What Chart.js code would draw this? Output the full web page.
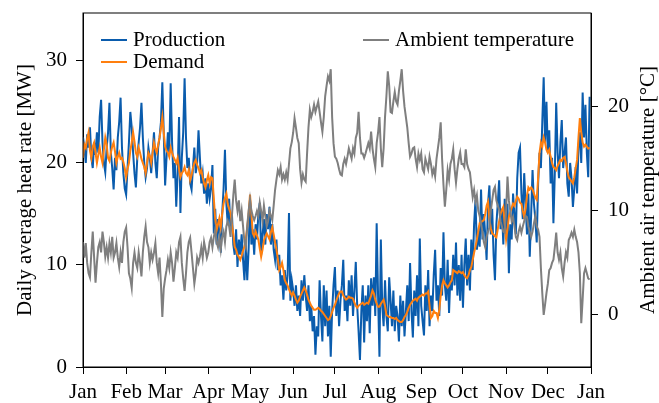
<!DOCTYPE html>
<html>
<head>
<meta charset="utf-8">
<script src="https://cdn.jsdelivr.net/npm/chart.js@4.4.1/dist/chart.umd.min.js"></script>
<style>
  body { margin: 0; background: #fff; }
  #wrap { width: 659px; height: 403px; }
</style>
</head>
<body>
<div id="wrap"><canvas id="c" width="659" height="403"></canvas></div>
<script>
// month ticks (day of year) and labels
const monthDays = [0, 31, 59, 90, 120, 151, 181, 212, 243, 273, 304, 334, 365];
const monthLabels = ['Jan', 'Feb', 'Mar', 'Apr', 'May', 'Jun', 'Jul', 'Aug', 'Sep', 'Oct', 'Nov', 'Dec', 'Jan'];
const heatTicks = [0, 10, 20, 30];
const tempTicks = [0, 10, 20];

// daily average heat production [MW]
const production = [
  22.5,21.5,20.0,22.8,21.5,23.5,20.5,19.5,22.0,20.8,23.0,21.0,24.5,26.2,22.0,20.0,19.1,21.5,23.0,25.9,21.0,19.5,17.4,20.5,19.3,22.5,24.0,26.4,21.5,19.0,17.5,
  16.9,19.5,22.0,25.0,23.5,21.0,19.0,17.6,20.5,22.0,23.5,25.9,22.5,20.0,18.6,19.5,21.5,20.5,19.0,21.0,23.0,20.0,18.5,21.5,22.5,24.0,27.9,23.0,
  17.8,20.5,23.0,21.0,27.8,22.0,18.5,20.0,15.7,19.0,24.5,15.1,20.5,23.0,28.3,22.5,19.5,20.5,18.0,17.4,19.5,21.5,19.0,20.0,23.2,20.5,18.0,19.0,17.0,18.5,16.0,
  18.0,16.5,17.5,19.8,13.1,15.5,12.0,14.5,13.0,11.2,15.0,17.5,21.3,16.0,14.0,16.5,13.5,15.0,12.0,11.0,13.5,9.8,12.5,11.0,13.0,10.5,8.5,12.0,8.5,11.5,
  16.4,12.0,13.5,11.0,14.0,12.5,15.0,16.1,11.0,13.0,14.5,12.0,15.0,13.5,15.7,12.0,14.0,11.5,10.5,12.5,9.5,11.0,8.0,9.0,6.6,9.5,7.5,9.0,15.1,6.5,8.5,
  7.5,6.0,8.0,5.5,7.0,5.0,8.5,6.5,9.0,7.0,5.5,8.0,4.5,6.0,3.5,5.0,1.2,4.0,3.0,8.5,5.0,2.5,8.0,4.0,7.5,3.0,6.0,1.0,5.5,8.0,
  9.8,5.0,7.5,4.0,6.5,8.0,10.5,5.5,7.0,4.5,8.5,6.0,9.0,5.0,7.5,10.3,6.0,3.5,0.7,5.5,8.0,2.4,7.0,4.5,8.0,3.3,8.7,6.0,8.8,5.0,14.1,
  7.0,1.0,12.5,6.0,4.0,8.5,5.0,3.5,8.8,6.5,4.0,7.5,3.5,6.0,5.0,2.5,7.0,4.0,6.5,3.0,5.5,8.0,4.5,10.2,5.5,2.9,7.5,5.0,9.0,4.0,12.6,
  6.0,4.5,3.1,8.0,5.5,9.5,4.0,7.0,5.5,9.0,11.5,6.5,8.0,5.0,9.7,7.0,13.2,8.0,6.5,10.5,5.3,9.0,7.5,11.0,8.0,12.2,7.0,10.0,6.5,11.0,
  5.8,10.0,12.6,8.0,11.0,7.5,12.5,9.5,14.0,16.4,11.5,13.0,11.8,17.4,12.5,15.0,13.0,10.5,16.0,17.8,13.0,15.5,11.0,8.5,14.0,16.0,18.3,13.5,15.5,12.0,16.5,
  13.0,16.0,9.2,14.0,12.5,17.0,15.0,13.0,18.5,21.0,21.5,17.0,14.5,19.0,16.0,13.0,17.0,10.8,15.0,19.3,16.0,14.5,12.2,18.0,21.0,19.5,24.0,28.4,22.0,26.0,
  21.0,23.2,18.0,20.5,14.1,19.0,25.9,21.0,18.5,22.0,24.2,19.5,21.0,22.5,18.0,16.7,20.0,18.5,15.7,17.5,19.6,17.0,21.5,23.0,20.0,26.9,22.5,25.7,21.0,18.6,26.5
];

// daily average heat demand [MW]
const demand = [
  20.5,21.8,21.5,22.4,23.0,21.2,20.5,21.6,22.0,21.0,20.0,20.8,21.5,20.6,20.0,21.3,22.5,21.8,20.5,20.2,21.0,21.6,22.0,21.1,20.0,20.6,21.0,20.4,20.5,20.1,19.5,
  18.6,19.4,20.0,21.2,22.0,23.0,22.1,21.0,20.6,21.5,21.0,20.4,20.0,19.6,19.0,20.0,21.0,20.7,20.0,21.0,22.0,21.4,21.0,21.8,22.5,23.4,24.5,23.0,
  21.6,21.2,21.0,20.6,21.5,21.0,20.6,20.3,20.0,20.5,19.4,18.6,19.0,19.2,19.6,19.0,18.8,19.3,18.3,18.8,19.5,20.0,20.3,19.8,19.5,19.0,19.3,18.6,18.0,17.6,18.3,
  18.8,18.0,18.6,18.5,16.5,14.5,13.4,14.0,14.6,13.7,15.0,16.0,16.6,17.0,16.0,15.5,15.1,14.0,13.0,11.8,11.5,11.0,10.8,10.5,10.9,11.4,11.8,12.6,13.7,15.0,
  16.9,15.0,13.1,12.8,13.3,12.9,12.5,11.6,10.8,11.5,12.4,12.8,13.1,12.8,12.5,13.2,13.7,13.0,12.2,11.5,10.6,9.5,9.8,10.2,9.5,8.5,8.2,8.0,7.6,7.3,7.0,
  7.3,7.0,6.6,6.3,6.5,6.9,7.2,7.5,7.8,7.5,7.1,6.6,6.3,6.0,5.8,5.6,5.6,5.7,5.8,5.7,5.5,5.4,5.2,5.0,4.8,4.6,4.7,5.0,5.4,5.8,
  6.1,6.5,6.9,7.2,7.4,7.4,7.0,6.8,6.6,6.7,6.9,6.8,6.8,6.7,6.3,6.0,5.8,6.0,6.1,6.2,6.3,6.1,6.2,6.3,6.2,6.6,7.0,7.5,7.2,6.6,6.2,
  5.9,5.9,6.2,6.4,6.6,6.0,5.1,5.0,4.9,4.9,4.8,4.8,4.7,4.8,4.6,4.5,4.4,4.4,4.6,4.9,5.1,5.4,5.8,6.1,6.3,6.5,6.6,6.7,6.5,6.8,6.9,
  7.0,7.1,7.0,7.2,7.2,7.4,6.0,4.8,5.0,5.5,5.3,5.3,4.8,5.6,7.0,8.0,8.5,8.2,8.0,7.8,8.0,8.3,8.5,9.5,9.4,9.3,9.2,9.4,9.3,9.2,
  9.3,9.0,8.8,8.7,9.0,9.5,9.8,10.5,11.2,11.8,12.5,13.3,14.1,14.2,14.3,14.4,15.0,15.8,16.2,14.5,13.6,13.1,13.0,12.8,12.7,13.5,14.3,15.0,15.4,15.7,14.0,
  12.5,13.5,14.7,15.2,15.6,16.0,15.8,16.3,16.7,16.5,16.1,16.0,15.3,14.7,15.5,16.8,17.6,17.4,17.6,17.4,17.0,16.6,16.4,18.5,21.0,22.0,21.6,22.5,22.0,21.3,
  21.0,21.3,20.6,20.0,19.6,19.5,19.3,19.7,20.0,20.3,20.2,20.5,20.6,20.0,19.2,18.6,18.4,18.2,18.0,18.6,19.5,20.3,22.5,24.4,23.0,22.0,21.6,21.8,21.6,21.4,21.5
];

// ambient air temperature [°C]
const temperature = [
  7.0,5.5,6.9,5.0,4.0,3.6,6.0,8.0,5.5,3.1,5.0,6.5,7.0,6.0,8.0,7.0,5.6,6.5,5.5,6.9,6.0,7.5,5.5,6.0,6.9,5.5,4.6,6.0,5.0,7.0,8.0,
  8.4,6.5,4.0,3.5,2.6,5.0,6.0,5.0,4.5,6.0,5.0,3.7,6.0,7.5,8.5,7.0,6.5,5.0,6.0,5.3,6.0,6.9,5.0,4.0,5.5,3.0,-0.2,2.5,
  3.5,4.3,5.3,4.5,6.0,5.0,3.2,4.5,6.0,5.5,7.0,7.5,5.0,3.5,2.3,4.0,6.0,7.0,7.4,6.0,4.5,3.0,4.0,5.5,5.0,5.6,6.5,5.5,7.0,6.3,5.5,
  6.0,7.0,7.4,6.5,7.5,8.2,7.0,6.5,7.5,6.3,7.5,8.0,7.0,8.5,9.0,8.5,7.5,9.5,11.5,13.0,11.0,10.0,11.0,9.0,10.0,8.5,7.0,6.5,8.5,10.0,
  11.1,10.0,9.5,9.1,9.5,10.0,9.5,10.8,10.0,9.0,10.5,9.5,8.5,9.0,10.0,9.5,9.1,10.5,12.0,13.0,13.9,13.5,14.2,13.0,13.5,13.0,13.7,13.0,14.5,16.0,16.6,
  17.5,18.9,18.0,17.0,16.5,14.0,12.7,13.5,13.0,12.8,15.5,18.0,19.7,19.0,19.5,20.2,19.5,20.0,20.5,19.5,18.5,17.6,19.0,21.0,22.0,22.9,22.5,23.6,19.0,16.5,
  15.2,15.0,14.6,14.0,13.5,13.4,14.5,15.0,14.5,15.2,16.0,15.5,15.0,16.0,15.5,17.0,17.5,19.5,17.0,15.5,15.5,15.1,15.5,16.0,16.5,16.0,17.6,16.0,15.0,14.2,16.5,
  17.5,19.0,16.0,14.2,16.0,19.0,21.0,23.4,22.0,19.5,19.4,20.5,21.4,20.5,20.2,21.5,22.5,23.6,21.5,20.0,19.0,18.0,16.5,15.2,15.5,16.0,16.1,15.0,14.2,15.5,14.9,
  15.5,14.0,13.7,15.0,14.5,14.0,15.2,14.5,13.5,14.0,13.3,15.0,16.0,17.0,18.5,15.0,12.5,10.4,12.0,13.9,13.0,14.5,15.0,15.9,14.0,12.7,14.0,15.0,15.6,14.5,
  14.5,14.2,15.9,14.5,14.0,13.7,12.5,11.3,12.0,10.9,11.5,10.0,9.5,8.8,8.0,7.0,6.5,7.5,8.0,8.4,10.0,11.0,12.0,12.3,11.0,10.5,10.1,9.0,8.5,8.0,7.9,
  10.0,13.3,11.0,10.0,9.0,9.4,8.5,7.5,7.2,8.0,8.5,7.9,8.5,9.0,9.5,9.4,8.5,8.0,7.5,8.0,8.8,9.5,8.5,8.2,7.5,4.5,2.1,0.0,1.0,2.1,
  3.0,4.3,4.5,5.0,5.3,6.5,7.9,6.0,5.3,6.0,4.5,3.7,5.0,6.0,5.5,7.2,7.5,7.9,7.5,8.2,7.5,7.0,6.0,4.0,-0.8,1.5,4.0,4.5,4.0,3.5,3.4
];

const BLUE = '#0a5cad';
const ORANGE = '#ff7f0e';
const GRAY = '#7f7f7f';
const FONT = '"Liberation Serif", "DejaVu Serif", serif';

Chart.defaults.font.family = FONT;
Chart.defaults.font.size = 21;
Chart.defaults.color = '#000';

const pts = arr => arr.map((v, i) => ({ x: i, y: v }));

// frame, axis titles, legends
const decor = {
  id: 'decor',
  afterDraw(chart) {
    const { ctx, chartArea: a } = chart;
    const mid = (a.top + a.bottom) / 2;
    ctx.save();
    ctx.strokeStyle = '#000';
    ctx.lineWidth = 1;
    ctx.strokeRect(a.left, a.top, a.right - a.left, a.bottom - a.top);

    ctx.fillStyle = '#000';
    ctx.font = '21px ' + FONT;
    ctx.textAlign = 'center';
    ctx.textBaseline = 'middle';
    ctx.save();
    ctx.translate(25, mid);
    ctx.rotate(-Math.PI / 2);
    ctx.fillText('Daily average heat rate [MW]', 0, 0);
    ctx.restore();
    ctx.save();
    ctx.translate(648, mid);
    ctx.rotate(-Math.PI / 2);
    ctx.fillText('Ambient air temperature [°C]', 0, 0);
    ctx.restore();

    const items = [
      { label: 'Production', color: BLUE, x: a.left + 18, y: a.top + 27 },
      { label: 'Demand', color: ORANGE, x: a.left + 18, y: a.top + 49 },
      { label: 'Ambient temperature', color: GRAY, x: a.left + 280, y: a.top + 27 }
    ];
    ctx.textAlign = 'left';
    ctx.lineWidth = 2;
    items.forEach(it => {
      ctx.strokeStyle = it.color;
      ctx.beginPath();
      ctx.moveTo(it.x, it.y);
      ctx.lineTo(it.x + 26, it.y);
      ctx.stroke();
      ctx.fillText(it.label, it.x + 32, it.y);
    });
    ctx.restore();
  }
};

const axisGrid = { drawOnChartArea: false, drawTicks: true, tickLength: 7, color: '#000', lineWidth: 1 };

// fixed axis sizes, no extra label padding pushed into the layout
const fixSize = (w, h) => s => {
  if (w != null) s.width = w;
  if (h != null) s.height = h;
  s.paddingTop = 0; s.paddingBottom = 0; s.paddingLeft = 0; s.paddingRight = 0;
};

new Chart(document.getElementById('c'), {
  type: 'line',
  data: {
    datasets: [
      { label: 'Ambient temperature', data: pts(temperature), yAxisID: 'yT', borderColor: GRAY, borderWidth: 2, order: 0 },
      { label: 'Demand', data: pts(demand), yAxisID: 'y', borderColor: ORANGE, borderWidth: 2, order: 1 },
      { label: 'Production', data: pts(production), yAxisID: 'y', borderColor: BLUE, borderWidth: 2, order: 2 }
    ]
  },
  options: {
    responsive: false,
    animation: false,
    layout: { padding: { top: 13, left: 0, right: 0, bottom: 0 } },
    elements: { point: { radius: 0 }, line: { tension: 0 } },
    plugins: { legend: { display: false }, tooltip: { enabled: false } },
    scales: {
      x: {
        type: 'linear', min: 0, max: 365,
        grid: axisGrid,
        border: { display: true, color: '#000' },
        afterBuildTicks: s => { s.ticks = monthDays.map(v => ({ value: v })); },
        ticks: {
          autoSkip: false, maxRotation: 0, padding: 6,
          callback: (v) => monthLabels[monthDays.indexOf(v)]
        },
        afterFit: fixSize(null, 36)
      },
      y: {
        position: 'left', min: 0, max: 34.7,
        grid: axisGrid,
        border: { display: true, color: '#000' },
        afterBuildTicks: s => { s.ticks = heatTicks.map(v => ({ value: v })); },
        ticks: { padding: 9 },
        afterFit: fixSize(83, null)
      },
      yT: {
        position: 'right', min: -5, max: 29,
        grid: axisGrid,
        border: { display: true, color: '#000' },
        afterBuildTicks: s => { s.ticks = tempTicks.map(v => ({ value: v })); },
        ticks: { padding: 10 },
        afterFit: fixSize(68, null)
      }
    }
  },
  plugins: [decor]
});
</script>
</body>
</html>
